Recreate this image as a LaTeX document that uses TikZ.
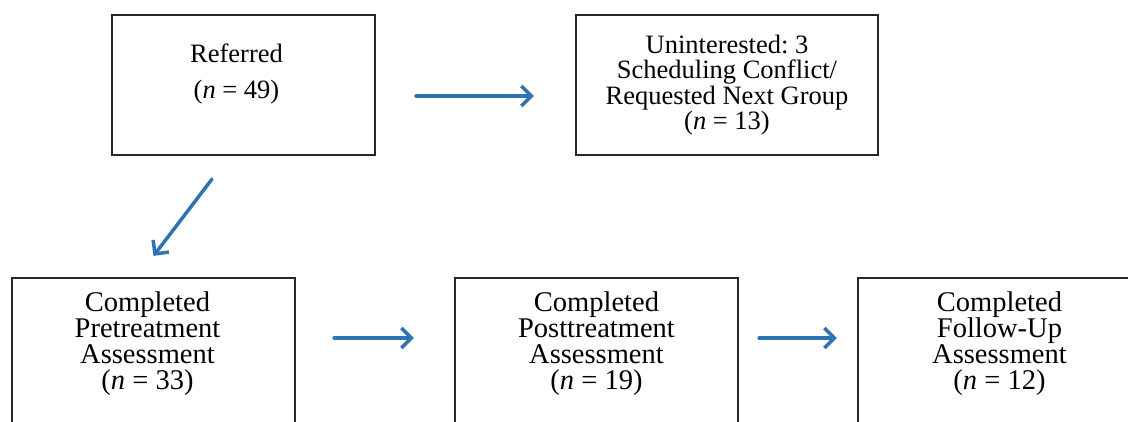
\documentclass[tikz,border=0pt]{standalone}
\usepackage{fontspec}
\setmainfont{Liberation Serif}
\usetikzlibrary{arrows.meta,positioning}
\definecolor{flowblue}{RGB}{46,116,181}
\frenchspacing

\begin{document}
\begin{tikzpicture}[
    x=1pt, y=-1pt,
    box/.style={rectangle, draw=black!85, line width=2.2pt, fill=white,
        minimum width=283pt, minimum height=170pt, inner sep=0pt},
    txt/.style={align=center, inner sep=0pt, font=\fontsize{26.5}{25.5}\selectfont},
    bigtxt/.style={txt, font=\fontsize{28.5}{26}\selectfont},
    arr/.style={-{Straight Barb[length=10pt,width=20pt]}, line width=3.5pt, flowblue, line cap=round}
]
\clip (0,0) rectangle (1128,422);

\node[box, minimum width=263pt, minimum height=140pt] (ref) at (243.5,85) {};
\node[txt, below=30pt of ref.north, xshift=-7pt] (reftxt) {Referred\\[10pt](\textit{n} = 49)};
\node[box, txt, minimum width=302pt, minimum height=140pt] (unint) at (727,85)
    {Uninterested: 3\\Scheduling Conflict/\\Requested Next Group\\(\textit{n} = 13)};

\node[box] (pre) at (153.5,363) {};
\node[box] (post) at (596.5,363) {};
\node[box] (fu) at (999.5,363) {};
\node[bigtxt, below=15pt of pre.north, xshift=-6pt] (pretxt) {Completed\\Pretreatment\\Assessment\\(\textit{n} = 33)};
\node[bigtxt, below=15pt of post.north] (posttxt) {Completed\\Posttreatment\\Assessment\\(\textit{n} = 19)};
\node[bigtxt, below=15pt of fu.north] (futxt) {Completed\\Follow-Up\\Assessment\\(\textit{n} = 12)};

\draw[arr, shorten <=40pt, shorten >=41pt] ([yshift=-11pt]ref.east) -- ([yshift=-11pt]unint.west);
\draw[arr] ([shift={(-31.5,23)}]ref.south) -- ([shift={(0,-21)}]pre.north);
\draw[arr, shorten <=38pt, shorten >=40pt] ([yshift=25pt]pre.east) -- ([yshift=25pt]post.west);
\draw[arr, shorten <=20pt, shorten >=20pt] ([yshift=25pt]post.east) -- ([yshift=25pt]fu.west);
\end{tikzpicture}
\end{document}
